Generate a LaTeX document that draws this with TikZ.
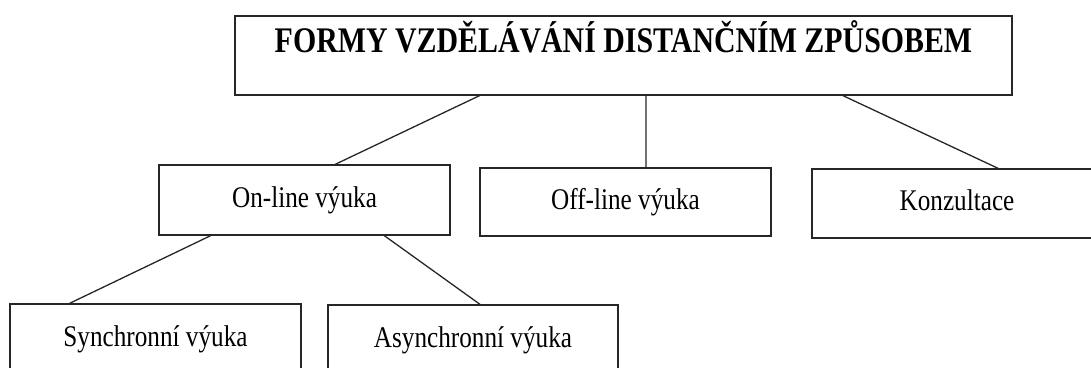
\documentclass[tikz,border=0pt]{standalone}
\usepackage{fontspec}
\setmainfont{Liberation Serif}
\usepackage{graphicx}
\usepackage{tikz}
\usetikzlibrary{calc}
\usetikzlibrary{positioning}
\newcommand{\narrow}[1]{\scalebox{0.84}[1]{#1}}
\newcommand{\narrowhead}[1]{\scalebox{0.83}[1]{#1}}
\tikzset{
    formbox/.style={
      rectangle,
      draw=black!85, line width=1.3pt,
      minimum width=291pt,
      minimum height=70pt,
      inner sep=0pt,
      text height=21.5pt, text depth=7.5pt,
      font=\fontsize{30}{34}\selectfont,
      text centered,
    },
    headbox/.style={
      formbox,
      minimum width=777pt,
      minimum height=79pt,
      text height=25pt, text depth=32pt,
      font=\bfseries\fontsize{36}{40}\selectfont,
    },
    branch/.style={
      draw=black!85, line width=1.3pt,
    },
}
\begin{document}
\begin{tikzpicture}[x=1pt,y=-1pt]
    \useasboundingbox (0,0) rectangle (1091,367);

    \node[headbox] (forms) at (623.5,55.5)
    {\narrowhead{FORMY VZDĚLÁVÁNÍ DISTANČNÍM ZPŮSOBEM}};

    \node[formbox] (online) at (304.5,200) {\narrow{On-line výuka}};
    \node[formbox, minimum height=68pt] (offline) at (625.5,202) {\narrow{Off-line výuka}};
    \node[formbox, minimum width=290pt, minimum height=69pt] (konz) at (957,203.5) {\narrow{Konzultace}};

    \node[formbox] (synch) at (155.5,339) {\narrow{Synchronní výuka}};
    \node[formbox, minimum width=290pt] (asynch) at (473,340) {\narrow{Asynchronní výuka}};

    \path

    ($(forms.south west)!0.315!(forms.south east)$) edge[branch]
    ($(online.north west)!0.605!(online.north east)$)

    ($(forms.south west)!0.529!(forms.south east)$) edge[branch]
    ($(offline.north west)!0.570!(offline.north east)$)

    ($(forms.south west)!0.782!(forms.south east)$) edge[branch]
    ($(konz.north west)!0.641!(konz.north east)$)

    ($(online.south west)!0.179!(online.south east)$) edge[branch]
    ($(synch.north west)!0.206!(synch.north east)$)

    ($(online.south west)!0.773!(online.south east)$) edge[branch]
    ($(asynch.north west)!0.524!(asynch.north east)$)

    ;
\end{tikzpicture}
\end{document}
